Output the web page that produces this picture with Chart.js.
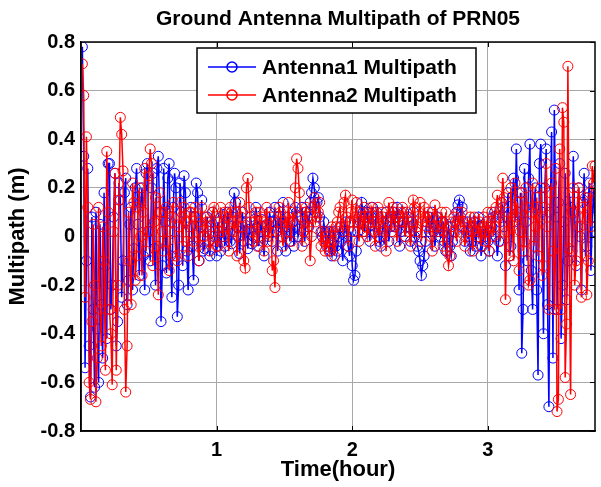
<!DOCTYPE html>
<html>
<head>
<meta charset="utf-8">
<script src="https://cdn.jsdelivr.net/npm/chart.js@4.4.1/dist/chart.umd.min.js"></script>
<style>
  html, body { margin: 0; padding: 0; background: #fff; }
  #wrap { width: 601px; height: 487px; position: relative; }
</style>
</head>
<body>
<div id="wrap"><canvas id="mp"></canvas></div>
<script>
// time of each epoch (hour)
const times = [
  0.01,0.02,0.03,0.04,0.05,0.06,0.07,0.08,0.09,0.10,
  0.11,0.12,0.13,0.14,0.15,0.16,0.17,0.18,0.19,0.20,
  0.21,0.22,0.23,0.24,0.25,0.26,0.27,0.28,0.29,0.30,
  0.31,0.32,0.33,0.34,0.35,0.36,0.37,0.38,0.39,0.40,
  0.41,0.42,0.43,0.44,0.45,0.46,0.47,0.48,0.49,0.50,
  0.51,0.52,0.53,0.54,0.55,0.56,0.57,0.58,0.59,0.60,
  0.61,0.62,0.63,0.64,0.65,0.66,0.67,0.68,0.69,0.70,
  0.71,0.72,0.73,0.74,0.75,0.76,0.77,0.78,0.79,0.80,
  0.81,0.82,0.83,0.84,0.85,0.86,0.87,0.88,0.89,0.90,
  0.91,0.92,0.93,0.94,0.95,0.96,0.97,0.98,0.99,1.00,
  1.01,1.02,1.03,1.04,1.05,1.06,1.07,1.08,1.09,1.10,
  1.11,1.12,1.13,1.14,1.15,1.16,1.17,1.18,1.19,1.20,
  1.21,1.22,1.23,1.24,1.25,1.26,1.27,1.28,1.29,1.30,
  1.31,1.32,1.33,1.34,1.35,1.36,1.37,1.38,1.39,1.40,
  1.41,1.42,1.43,1.44,1.45,1.46,1.47,1.48,1.49,1.50,
  1.51,1.52,1.53,1.54,1.55,1.56,1.57,1.58,1.59,1.60,
  1.61,1.62,1.63,1.64,1.65,1.66,1.67,1.68,1.69,1.70,
  1.71,1.72,1.73,1.74,1.75,1.76,1.77,1.78,1.79,1.80,
  1.81,1.82,1.83,1.84,1.85,1.86,1.87,1.88,1.89,1.90,
  1.91,1.92,1.93,1.94,1.95,1.96,1.97,1.98,1.99,2.00,
  2.01,2.02,2.03,2.04,2.05,2.06,2.07,2.08,2.09,2.10,
  2.11,2.12,2.13,2.14,2.15,2.16,2.17,2.18,2.19,2.20,
  2.21,2.22,2.23,2.24,2.25,2.26,2.27,2.28,2.29,2.30,
  2.31,2.32,2.33,2.34,2.35,2.36,2.37,2.38,2.39,2.40,
  2.41,2.42,2.43,2.44,2.45,2.46,2.47,2.48,2.49,2.50,
  2.51,2.52,2.53,2.54,2.55,2.56,2.57,2.58,2.59,2.60,
  2.61,2.62,2.63,2.64,2.65,2.66,2.67,2.68,2.69,2.70,
  2.71,2.72,2.73,2.74,2.75,2.76,2.77,2.78,2.79,2.80,
  2.81,2.82,2.83,2.84,2.85,2.86,2.87,2.88,2.89,2.90,
  2.91,2.92,2.93,2.94,2.95,2.96,2.97,2.98,2.99,3.00,
  3.01,3.02,3.03,3.04,3.05,3.06,3.07,3.08,3.09,3.10,
  3.11,3.12,3.13,3.14,3.15,3.16,3.17,3.18,3.19,3.20,
  3.21,3.22,3.23,3.24,3.25,3.26,3.27,3.28,3.29,3.30,
  3.31,3.32,3.33,3.34,3.35,3.36,3.37,3.38,3.39,3.40,
  3.41,3.42,3.43,3.44,3.45,3.46,3.47,3.48,3.49,3.50,
  3.51,3.52,3.53,3.54,3.55,3.56,3.57,3.58,3.59,3.60,
  3.61,3.62,3.63,3.64,3.65,3.66,3.67,3.68,3.69,3.70,
  3.71,3.72,3.73,3.74,3.75,3.76,3.77,3.78,3.79
];

// multipath (m)
const antenna1 = [
  0.78,0.33,-0.54,-0.10,0.28,-0.45,-0.66,0.08,-0.30,-0.62,
  0.10,-0.38,-0.60,0.05,-0.28,-0.50,0.18,-0.12,-0.42,0.30,
  0.30,-0.30,-0.20,0.08,0.26,-0.45,-0.35,0.22,0.15,-0.25,
  -0.10,0.18,0.24,-0.28,-0.18,0.05,0.12,-0.22,-0.05,0.20,
  0.28,0.05,-0.16,0.14,0.20,-0.08,-0.22,0.26,0.30,0.02,
  -0.10,0.20,0.26,-0.05,-0.20,0.28,0.33,0.10,-0.35,-0.12,
  0.28,0.06,-0.15,0.24,0.30,-0.08,-0.25,0.12,0.26,0.20,
  -0.33,-0.20,0.22,0.10,-0.12,0.25,0.18,-0.06,-0.22,0.04,
  0.12,-0.04,-0.18,0.08,0.22,0.18,-0.10,0.04,0.15,-0.06,
  -0.05,0.04,0.08,-0.02,-0.08,0.06,0.10,0.00,-0.02,-0.08,
  0.06,0.02,-0.06,0.04,0.09,-0.04,0.01,0.10,0.05,-0.02,
  -0.03,0.08,0.18,0.14,0.04,0.00,-0.07,0.06,0.10,-0.02,
  0.02,0.06,-0.05,0.03,0.08,-0.03,0.00,0.07,0.12,0.04,
  -0.04,0.02,0.07,-0.02,-0.08,0.04,0.05,0.00,0.10,0.06,
  -0.02,0.06,0.12,0.02,-0.06,0.08,0.04,0.00,0.14,0.04,
  -0.06,0.04,0.08,-0.02,0.02,0.06,-0.04,0.12,0.10,0.00,
  0.03,0.08,0.12,0.02,-0.02,0.10,0.08,0.04,0.14,0.18,
  0.24,0.20,0.10,0.14,0.16,0.08,0.02,0.00,0.06,0.02,
  -0.04,-0.02,0.02,-0.06,-0.08,0.02,0.00,-0.04,-0.06,0.00,
  0.04,-0.02,-0.10,0.02,0.06,0.00,-0.04,-0.08,0.02,-0.12,
  -0.18,-0.16,-0.06,0.02,0.08,0.06,0.14,0.10,0.02,0.08,
  0.10,0.04,-0.02,0.08,0.12,0.02,0.04,0.10,0.08,-0.02,
  -0.04,0.02,0.06,0.00,0.10,0.06,-0.02,0.04,0.08,0.10,
  0.04,0.08,0.12,0.06,-0.04,0.02,0.06,0.10,0.00,0.04,
  0.08,0.04,-0.02,0.06,0.10,0.00,0.02,-0.04,-0.06,-0.10,
  -0.16,-0.12,-0.08,-0.02,0.06,0.08,0.02,0.04,0.10,0.02,
  -0.04,0.04,0.08,0.02,0.00,0.06,0.06,-0.02,-0.06,0.00,
  0.04,-0.04,-0.08,-0.02,0.02,0.06,0.10,0.13,0.15,0.08,
  0.12,0.04,-0.02,0.02,0.06,0.00,-0.06,-0.02,0.04,0.06,
  -0.04,0.02,0.08,0.04,-0.08,-0.04,0.02,0.00,0.06,-0.02,
  -0.06,0.02,0.04,0.08,0.10,0.00,-0.08,-0.02,0.06,0.14,
  0.12,0.04,-0.12,0.08,0.18,-0.08,-0.04,0.16,0.24,0.06,
  0.36,0.10,-0.22,0.18,-0.48,-0.30,0.28,0.06,-0.10,0.24,
  0.38,-0.14,-0.30,0.12,0.20,-0.22,-0.57,0.30,0.38,0.10,
  -0.40,0.20,0.36,-0.28,-0.70,0.10,0.43,-0.50,0.52,0.08,
  -0.30,0.14,0.30,-0.42,-0.20,0.06,0.26,-0.26,-0.10,0.18,
  0.12,-0.06,0.33,0.10,-0.12,0.04,0.20,0.00,-0.22,0.14,
  0.26,-0.08,-0.04,0.16,0.22,-0.14,0.08,0.20,0.02
];

const antenna2 = [
  0.71,0.58,-0.25,0.41,0.12,-0.60,-0.67,-0.35,0.05,-0.20,
  -0.68,-0.50,0.12,-0.30,-0.45,0.04,-0.10,-0.55,0.35,0.10,
  -0.30,-0.40,-0.61,0.02,0.26,-0.55,-0.20,0.15,0.49,0.42,
  0.27,-0.30,-0.64,-0.45,0.10,-0.10,-0.28,0.22,0.14,-0.18,
  -0.08,0.12,0.20,0.00,-0.16,0.10,0.28,-0.06,0.02,0.25,
  0.36,0.30,-0.12,0.06,0.16,-0.04,-0.24,0.18,0.10,0.02,
  -0.06,0.10,0.12,-0.02,-0.14,0.06,0.08,0.14,0.02,-0.08,
  -0.10,0.04,0.14,0.08,-0.04,0.12,0.06,-0.02,-0.08,0.10,
  0.10,0.04,-0.02,0.12,0.08,-0.04,-0.10,0.06,0.12,0.00,
  0.00,0.08,0.06,-0.02,-0.06,0.04,0.10,0.12,0.02,-0.04,
  -0.04,0.06,0.12,0.02,0.00,0.10,0.08,0.04,-0.06,0.12,
  0.10,0.06,0.02,0.10,-0.08,0.00,0.14,0.08,0.04,-0.10,
  -0.13,0.20,0.24,0.12,0.06,0.02,-0.02,0.06,0.10,-0.04,
  0.00,0.10,0.08,0.04,-0.06,0.06,0.12,-0.02,0.02,0.08,
  -0.14,-0.10,-0.21,0.02,0.06,0.12,0.10,0.00,-0.04,0.06,
  0.08,0.02,0.14,0.06,-0.02,0.10,0.06,0.20,0.32,0.28,
  0.18,0.08,-0.04,0.02,0.10,0.12,0.04,0.06,-0.10,0.00,
  0.12,0.16,0.06,0.08,0.10,0.14,-0.04,0.02,-0.02,-0.06,
  0.00,-0.04,-0.06,0.02,0.04,-0.02,-0.08,0.04,0.06,0.10,
  0.12,0.04,0.02,0.14,0.17,0.08,-0.04,0.06,0.10,0.15,
  0.02,0.08,0.14,0.06,-0.02,0.10,0.08,0.02,0.12,0.04,
  0.00,0.08,0.06,0.12,0.10,0.02,-0.04,0.06,0.12,0.00,
  0.04,0.10,0.08,0.02,-0.06,0.06,0.14,0.08,0.02,0.12,
  0.10,0.04,-0.02,0.08,0.06,0.10,0.12,0.06,0.00,0.10,
  0.08,0.02,-0.04,0.06,0.15,0.12,0.02,0.04,0.10,0.14,
  -0.02,0.06,0.12,0.08,0.04,0.10,0.08,0.00,-0.06,0.04,
  0.13,0.08,0.02,0.04,0.06,0.10,-0.04,0.02,0.10,-0.06,
  -0.12,-0.08,0.04,0.06,0.08,0.02,-0.02,0.10,0.06,0.04,
  0.10,0.06,-0.04,0.00,0.02,0.04,0.08,0.02,-0.06,0.08,
  0.06,0.02,0.00,0.06,-0.04,0.04,0.08,-0.02,0.02,0.10,
  -0.06,0.04,0.10,0.00,0.04,0.12,0.17,0.08,-0.02,0.14,
  0.24,0.16,-0.26,0.02,0.10,-0.08,0.20,0.06,-0.10,0.22,
  0.08,0.14,-0.14,0.02,0.18,-0.06,-0.02,0.20,0.12,-0.20,
  -0.18,0.10,0.22,-0.04,0.04,0.16,-0.08,0.08,0.20,-0.16,
  -0.12,0.12,0.30,0.04,-0.30,0.18,0.22,-0.06,-0.30,0.28,
  -0.72,-0.67,0.36,-0.30,0.53,0.47,-0.58,-0.36,0.70,-0.05,
  -0.65,0.10,0.20,-0.20,-0.10,0.14,0.20,0.04,-0.25,0.12,
  0.08,0.16,-0.24,-0.10,0.18,0.04,0.29,0.22,0.29
];

const xTicks = [1, 2, 3];
const yTicks = [-0.8, -0.6, -0.4, -0.2, 0, 0.2, 0.4, 0.6, 0.8];
const seriesNames = ['Antenna1 Multipath', 'Antenna2 Multipath'];
const chartTitle = 'Ground Antenna Multipath of PRN05';
const xTitle = 'Time(hour)';
const yTitle = 'Multipath (m)';

const FONT = '"Liberation Sans", Arial, Helvetica, sans-serif';

function toPoints(vals) {
  return vals.map((v, i) => ({ x: times[i], y: v }));
}

// box, inner ticks, titles and the legend drawn matlab style
const matlabFrame = {
  id: 'matlabFrame',
  beforeDraw(chart) {
    const ctx = chart.ctx;
    ctx.save();
    ctx.fillStyle = '#fff';
    ctx.fillRect(0, 0, chart.width, chart.height);
    ctx.restore();
  },
  afterDraw(chart) {
    const { ctx, chartArea: a, scales } = chart;
    const sx = scales.x, sy = scales.y;
    ctx.save();

    ctx.strokeStyle = '#000';
    ctx.lineWidth = 1.5;
    ctx.strokeRect(a.left, a.top, a.right - a.left, a.bottom - a.top);

    ctx.lineWidth = 1;
    ctx.beginPath();
    xTicks.forEach(t => {
      const px = Math.round(sx.getPixelForValue(t)) + 0.5;
      ctx.moveTo(px, a.top); ctx.lineTo(px, a.top + 5);
      ctx.moveTo(px, a.bottom); ctx.lineTo(px, a.bottom - 5);
    });
    yTicks.forEach(t => {
      const py = Math.round(sy.getPixelForValue(t)) + 0.5;
      ctx.moveTo(a.right, py); ctx.lineTo(a.right - 5, py);
    });
    ctx.stroke();

    ctx.fillStyle = '#000';
    ctx.textAlign = 'center';
    ctx.textBaseline = 'middle';
    ctx.font = 'bold 21px ' + FONT;
    ctx.fillText(chartTitle, (a.left + a.right) / 2, 19);

    ctx.font = 'bold 22px ' + FONT;
    ctx.fillText(xTitle, (a.left + a.right) / 2, 470);

    ctx.save();
    ctx.translate(18, (a.top + a.bottom) / 2);
    ctx.rotate(-Math.PI / 2);
    ctx.fillText(yTitle, 0, 0);
    ctx.restore();

    // legend
    const lx = a.left + 116, ly = a.top + 6, lw = 279, lh = 65;
    ctx.fillStyle = '#fff';
    ctx.fillRect(lx, ly, lw, lh);
    ctx.lineWidth = 1.5;
    ctx.strokeStyle = '#000';
    ctx.strokeRect(lx, ly, lw, lh);
    chart.data.datasets.forEach((ds, i) => {
      const ry = ly + 19 + i * 28;
      ctx.strokeStyle = ds.borderColor;
      ctx.lineWidth = 1.5;
      ctx.beginPath();
      ctx.moveTo(lx + 11, ry); ctx.lineTo(lx + 59, ry);
      ctx.stroke();
      ctx.beginPath();
      ctx.arc(lx + 35, ry, 5, 0, Math.PI * 2);
      ctx.stroke();
      ctx.fillStyle = '#000';
      ctx.textAlign = 'left';
      ctx.font = 'bold 21px ' + FONT;
      ctx.fillText(ds.label, lx + 65, ry + 1);
    });
    ctx.restore();
  }
};

const ctx = document.getElementById('mp').getContext('2d');
new Chart(ctx, {
  type: 'line',
  data: {
    datasets: [
      {
        label: seriesNames[0],
        data: toPoints(antenna1),
        borderColor: '#0000ff',
        backgroundColor: 'rgba(0,0,0,0)',
        pointBorderColor: '#0000ff',
        pointBackgroundColor: 'rgba(0,0,0,0)',
        borderWidth: 1.5,
        pointRadius: 5,
        pointBorderWidth: 1,
        tension: 0,
        order: 1
      },
      {
        label: seriesNames[1],
        data: toPoints(antenna2),
        borderColor: '#ff0000',
        backgroundColor: 'rgba(0,0,0,0)',
        pointBorderColor: '#ff0000',
        pointBackgroundColor: 'rgba(0,0,0,0)',
        borderWidth: 1.5,
        pointRadius: 5,
        pointBorderWidth: 1,
        tension: 0,
        order: 0
      }
    ]
  },
  options: {
    responsive: true,
    maintainAspectRatio: false,
    animation: false,
    layout: { padding: { top: 42, right: 3, left: 0, bottom: 0 } },
    plugins: {
      legend: { display: false },
      title: { display: false },
      tooltip: { enabled: false }
    },
    scales: {
      x: {
        type: 'linear',
        min: 0,
        max: 3.79,
        afterBuildTicks: s => { s.ticks = xTicks.map(v => ({ value: v })); },
        afterFit: s => { s.height = 56; },
        grid: { color: '#a8a8a8', lineWidth: 1, drawTicks: false },
        border: { color: '#000', width: 1.5 },
        ticks: {
          padding: 7,
          color: '#000',
          font: { family: FONT, size: 20, weight: 'bold' },
          callback: v => String(v)
        }
      },
      y: {
        type: 'linear',
        min: -0.8,
        max: 0.8,
        afterBuildTicks: s => { s.ticks = yTicks.map(v => ({ value: v })); },
        afterFit: s => { s.width = 81; },
        grid: { color: '#a8a8a8', lineWidth: 1, drawTicks: false },
        border: { color: '#000', width: 1.5 },
        ticks: {
          padding: 6,
          color: '#000',
          font: { family: FONT, size: 20, weight: 'bold' },
          callback: v => String(Math.round(v * 10) / 10)
        }
      }
    }
  },
  plugins: [matlabFrame]
});
</script>
</body>
</html>
